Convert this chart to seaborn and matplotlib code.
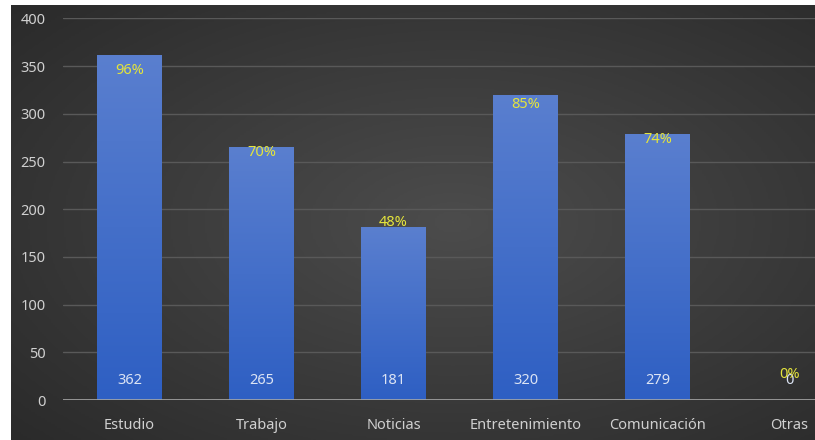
import numpy as np
import pandas as pd
import matplotlib
matplotlib.use("Agg")
import matplotlib.pyplot as plt
import seaborn as sns
from matplotlib.colors import LinearSegmentedColormap

# Respuestas por uso
categorias = ["Estudio", "Trabajo", "Noticias", "Entretenimiento", "Comunicación", "Otras"]
respuestas = [362, 265, 181, 320, 279, 0]
porcentajes = [96, 70, 48, 85, 74, 0]
ticks_y = [0, 50, 100, 150, 200, 250, 300, 350, 400]

df = pd.DataFrame({"categoria": categorias, "respuestas": respuestas, "porcentaje": porcentajes})

sns.set_theme(style="dark")
plt.rcParams["font.family"] = ["Noto Sans", "DejaVu Sans"]

W, H = 815, 440
fig = plt.figure(figsize=(W / 100, H / 100), dpi=100, facecolor="white")

# Fondo oscuro con degradado radial
bg = fig.add_axes([11 / W, 0, 1 - 11 / W, 435 / H])
bg.set_axis_off()
gx = np.linspace(0, 1, 400)
gy = np.linspace(0, 1, 220)
X, Y = np.meshgrid(gx, gy)
r = np.sqrt(((X - 0.55) / 0.75) ** 2 + ((Y - 0.5) / 0.75) ** 2)
r = np.clip(r, 0, 1)
bg_cmap = LinearSegmentedColormap.from_list("bg", ["#4c4c4c", "#2a2a2a"])
bg.imshow(r, cmap=bg_cmap, aspect="auto", extent=[0, 1, 0, 1], vmin=0, vmax=1)
bg.set_xlim(0, 1)
bg.set_ylim(0, 1)

# Área del gráfico (se extiende a la derecha del lienzo)
left = 63.5 / W
bottom = 40 / H
width = 792 / W
height = (400 - 18.5) / H
ax = fig.add_axes([left, bottom, width, height])
ax.patch.set_alpha(0)

sns.barplot(data=df, x="categoria", y="respuestas", ax=ax, color="#4472c4",
            width=0.49, saturation=1, zorder=3, linewidth=0, edgecolor="none")

ax.set_xlim(-0.5, len(categorias) - 0.5)
ax.set_ylim(0, 400)
ax.set_yticks(ticks_y)
ax.set_xlabel("")
ax.set_ylabel("")
for s in ax.spines.values():
    s.set_visible(False)
ax.grid(False)
for t in ticks_y[1:]:
    ax.axhline(t, color="#595959", lw=1.0, zorder=1)
ax.axhline(0, color="#a6a6a6", lw=1.2, zorder=4)

ax.tick_params(axis="both", length=0, colors="#d0d0d0", labelsize=10.5)
ax.tick_params(axis="y", pad=13)
ax.tick_params(axis="x", pad=13)

# Degradado vertical en cada barra
bar_cmap = LinearSegmentedColormap.from_list("bar", ["#2e5fc3", "#5a7fcf"])
grad = np.linspace(0, 1, 256).reshape(-1, 1)
for patch in ax.patches:
    x0, y0 = patch.get_x(), patch.get_y()
    w, h = patch.get_width(), patch.get_height()
    if h <= 0:
        continue
    im = ax.imshow(grad, cmap=bar_cmap, origin="lower", aspect="auto",
                   extent=[x0, x0 + w, y0, y0 + h], zorder=3)
    im.set_clip_path(patch)
ax.set_xlim(-0.5, len(categorias) - 0.5)
ax.set_ylim(0, 400)

# Valores al pie de cada barra
for i, v in enumerate(respuestas):
    ax.annotate(f"{v}", (i, 0), xytext=(0, 13.7), textcoords="offset points",
                ha="center", va="center", color="#dce4f4", fontsize=10.5, zorder=6)

# Porcentajes sobre eje secundario
ax2 = ax.twinx()
ax2.set_ylim(-8.2, 112.3)
ax2.set_axis_off()
for i, p in enumerate(porcentajes):
    ax2.text(i, p, f"{p}%", ha="center", va="center", color="#e4e43c",
             fontsize=10.5, zorder=7)

fig.savefig("out.png", dpi=100, facecolor="white")
